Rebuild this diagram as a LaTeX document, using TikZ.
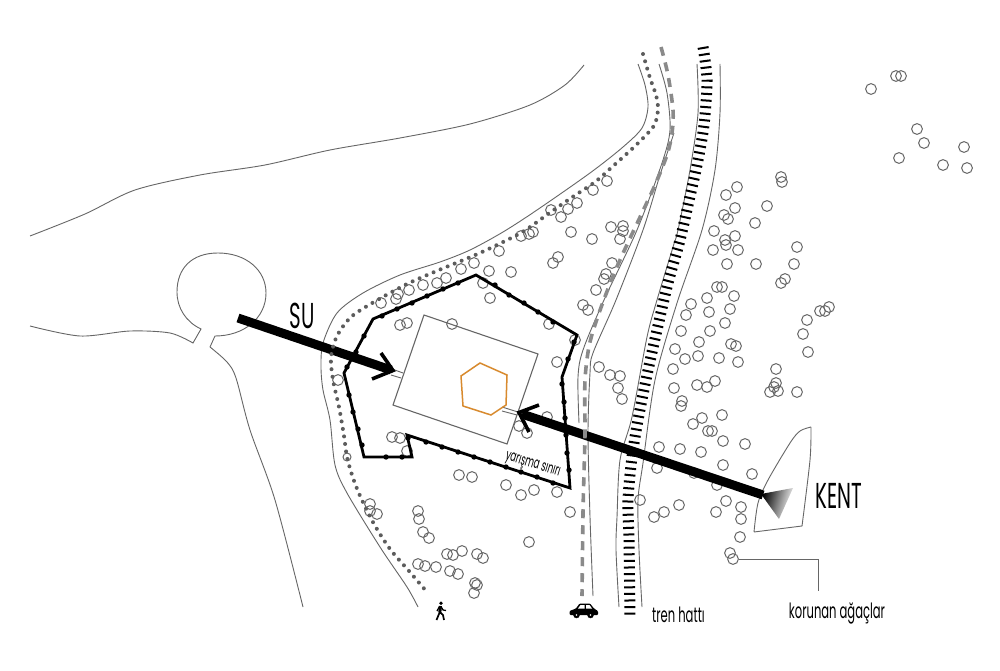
\documentclass[tikz,border=0pt]{standalone}
\usepackage{fontspec}
\newfontfamily\labelfont[FakeStretch=0.55]{Poppins}
\definecolor{linegray}{HTML}{666666}
\definecolor{treegray}{HTML}{666666}
\definecolor{dotgray}{HTML}{5C5C5C}
\definecolor{roadgray}{HTML}{8A8A8A}
\definecolor{hexorange}{HTML}{D88A2E}
\tikzset{
  terrain/.style={draw=linegray,line width=0.9pt},
  tree/.style={draw=treegray,line width=1pt},
  pathdots/.style={draw=dotgray,line width=4pt,line cap=round,dash pattern=on 0pt off 7.6pt},
  roadmark/.style={draw=roadgray,line width=3.6pt,dash pattern=on 9pt off 7pt},
  railties/.style={draw=black,line width=11pt,dash pattern=on 2pt off 4.6pt},
  border/.style={draw=black,line width=2.8pt,line join=miter},
  movearrow/.style={draw=black,line width=9pt},
  openhead/.style={draw=black,line width=3.6pt,line join=miter},
  bigtext/.style={inner sep=0pt,font=\labelfont\fontsize{36}{36}\selectfont},
  smalltext/.style={inner sep=0pt,font=\labelfont\fontsize{21}{21}\selectfont}
}
\begin{document}
\begin{tikzpicture}[x=1pt,y=-1pt]
  \useasboundingbox[fill=white] (0,0) rectangle (1000,671);

  % shore and lake
  \draw[terrain] plot[smooth] coordinates {(30,236) (85,214) (135,190) (200,175) (265,165) (330,150) (400,138) (470,124) (530,105) (565,85) (584,65)};
  \draw[terrain] plot[smooth] coordinates {(638,64) (645,85) (648,107) (642,128) (623,147) (590,173) (537,210) (503,232) (470,250) (440,262) (400,275) (363,293) (337,313) (323,343) (321,367) (323,390) (330,420) (335,465) (347,493) (380,547) (407,587) (418,607)};
  \draw[terrain] plot[smooth] coordinates {(30,326) (80,336) (130,331) (170,333) (193,343)} -- (201,329)
    .. controls (186,322) and (177,308) .. (177,292) .. controls (177,268) and (192,253) .. (218,253)
    .. controls (246,253) and (266,270) .. (266,293) .. controls (266,318) and (244,336) .. (215,336) -- (210,347)
    plot[smooth] coordinates {(210,347) (227,362) (236,378) (250,430) (275,500) (303,607)};
  % city block
  \draw[terrain] plot[smooth] coordinates {(754,532) (758,503) (768,480) (790,443) (800,431) (811,427)}
    plot[smooth] coordinates {(811,427) (810,460) (802,526)} -- (754,532);

  % trees
  \foreach \x\y in {896/76,901/76,871/89,917/129,924/143,964/147,899/158,943/165,967/168,
    737/187,726/195,735/208,724/215,728/219,767/206,755/223,781/177,782/182,714/231,735/236,725/240,726/245,713/250,738/250,797/247,727/264,756/264,794/264,785/279,781/283,717/287,722/287,734/296,707/298,691/304,686/315,730/309,709/312,725/323,681/331,710/331,699/342,731/344,736/346,675/349,685/359,698/356,719/358,738/362,673/369,674/388,682/401,681/406,697/385,707/387,715/381,829/307,825/311,820/311,807/320,803/334,808/352,776/369,776/383,774/387,778/391,770/392,797/392,
    702/418,693/424,722/415,708/431,712/431,723/441,745/444,659/447,680/449,701/452,723/465,657/468,694/473,752/474,717/485,726/501,679/505,716/512,741/507,741/519,664/512,654/517,640/500,740/537,730/553,733/559,
    418/511,419/519,423/532,429/538,447/554,453/555,462/551,477/554,483/558,418/564,425/566,436/567,450/571,458/574,475/583,477/585,474/593,529/542,570/512,
    370/504,370/511,377/514,392/437,400/438,407/451,338/380,459/475,472/477,506/485,521/495,534/490,557/492,
    461/269,474/263,489/271,511/272,483/283,490/298,446/278,437/283,423/285,409/290,398/294,396/299,381/303,407/323,400/325,452/324,549/324,575/340,557/362,583/305,588/310,596/290,553/263,558/257,
    599/367,610/375,620/376,618/388,622/399,547/417,519/426,527/433,
    607/181,593/190,577/203,568/209,551/210,561/217,533/232,529/234,521/236,499/251,571/232,592/239,611/227,623/226,623/231,620/239,612/263,606/274,604/279} {
    \draw[tree] (\x,\y) circle (5.4);
  }
  \draw[tree] (347,457) circle (4);

  % railway
  \draw[terrain] plot[smooth] coordinates {(697,64) (698,113) (690,170) (678,230) (673,247) (657,300) (647,337) (632,417) (620,460) (617,517) (616,550) (619,607)};
  \draw[terrain] plot[smooth] coordinates {(720,64) (720,113) (715,170) (702,230) (677,303) (655,380) (643,463) (638,500) (639,550) (642,607)};
  \draw[railties] plot[smooth] coordinates {(703,47) (707,80) (704,125) (697,165) (688,205) (680,240) (668,283) (657,330) (647,375) (638,420) (632,457) (628,500) (629,540) (630,618)};

  % road side lines
  \draw[terrain] plot[smooth] coordinates {(659,64) (667,93) (670,130) (662,163) (637,230) (604,300) (583,350) (578,377) (579,423)};
  \draw[terrain] plot[smooth] coordinates {(674,133) (660,175) (643,230) (616,300) (593,353) (590,373) (588,433) (590,517) (593,596)};

  % site and building
  \draw[draw=linegray,line width=1.1pt] (424,315) -- (538,354) -- (507,444) -- (393,405) -- cycle;
  \draw[draw=linegray,line width=0.9pt] (392,369) -- (403,373) (391,375) -- (401,378);
  \draw[draw=linegray,line width=0.9pt] (502,407) -- (518,412) (502,411) -- (517,415);
  \draw[draw=hexorange,line width=1.5pt] (480,363) -- (507,375) -- (506,405) -- (491,415) -- (463,406) -- (461,376) -- cycle;

  % competition boundary
  \draw[border] (476,275) -- (577,335) -- (562,377) -- (570,488) -- (407,435) -- (412,457) -- (364,457) -- (344,373) -- (373,319) -- cycle;
  \foreach \x\y in {458/283,443/289,427/296,412/303,397/309,382/316,364/336,356/352,347/367,349/395,353/412,358/429,362/445,386/457,402/457,408/438,426/442,442/447,458/452,474/457,490/462,506/467,521/472,537/477,553/483,569/470,567/453,566/435,565/418,564/402,562/384,568/359,574/342,553/322,538/312,524/303,509/295,495/285} {
    \fill[black] (\x,\y) circle (2.7);
  }
  \node[inner sep=0pt,rotate=-17,font=\labelfont\fontsize{15.5}{15.5}\selectfont] (boundarylabel) at (532.5,465.5) {yarışma sınırı};

  % su and kent arrows
  \coordinate (sufrom) at (238,318);
  \coordinate (suto) at (391,370);
  \coordinate (kentfrom) at (763,495);
  \coordinate (kentto) at (522,414);
  \draw[movearrow] (sufrom) -- (suto);
  \draw[movearrow] (kentfrom) -- (kentto);
  \draw[openhead] (381,353) -- (393,370.5) -- (372,379);
  \draw[openhead] (539,405) -- (519,412.5) -- (529,432);
  \shade[left color=black,middle color=black!85,right color=white,shading angle=75] (761,494) -- (793,488) -- (779,519) -- cycle;
  \node[bigtext] (sulabel) at (302,316) {SU};
  \node[bigtext] (kentlabel) at (839,496) {KENT};

  % paths on top
  \draw[pathdots] plot[smooth] coordinates {(643,54) (650,78) (656,95) (658,109) (655,124) (648,133) (633,148) (612,167) (595,182) (571,198) (548,214) (524,231) (499,244) (473,256) (439,270) (407,284) (374,302) (351,317) (337,336) (331,357) (333,380) (339,407) (344,436) (347,457) (353,478) (361,498) (374,524) (390,549) (409,571) (427,592)};
  \draw[roadmark] plot[smooth] coordinates {(661,47) (668,75) (673,110) (672,133) (667,155) (655,185) (642,213) (620,260) (603,302) (590,342) (585,380) (585,433) (584,473) (583,513) (582,596)};

  % protected trees label
  \coordinate (leaderstart) at (738.5,559);
  \coordinate (leaderend) at (818,591);
  \draw[draw=linegray,line width=1pt] (leaderstart) -| (leaderend);
  \node[smalltext] (treelabel) at (837,613) {korunan ağaçlar};
  \node[smalltext] (raillabel) at (678.5,615) {tren hattı};

  % walker
  \fill[black] (441,603.2) circle (1.9);
  \draw[black,line width=3pt] (440.5,606) -- (439.8,612.5);
  \draw[black,line width=1.7pt] (439.8,612) -- (436.5,620) (439.8,612) -- (443,615) -- (444,620);
  \draw[black,line width=1.3pt] (441,606.5) -- (443,610) -- (446,610.5) (439.5,606.5) -- (437,611);

  % car
  \fill[black,rounded corners=1pt] (569.5,615) -- (569.5,611) -- (576,608.5) -- (579.5,603.5) -- (590,603.5) -- (594,608.5) -- (598,611) -- (598,615) -- cycle;
  \fill[white] (578,608.5) -- (580.5,605) -- (584.5,605) -- (584.5,608.5) -- cycle (586,605) -- (589.5,605) -- (592,608.5) -- (586,608.5) -- cycle;
  \foreach \x in {576.5,590.5} {
    \draw[black,fill=black,line width=0.4pt] (\x,615) circle (3);
    \fill[white] (\x,615) circle (0.9);
  }
\end{tikzpicture}
\end{document}
